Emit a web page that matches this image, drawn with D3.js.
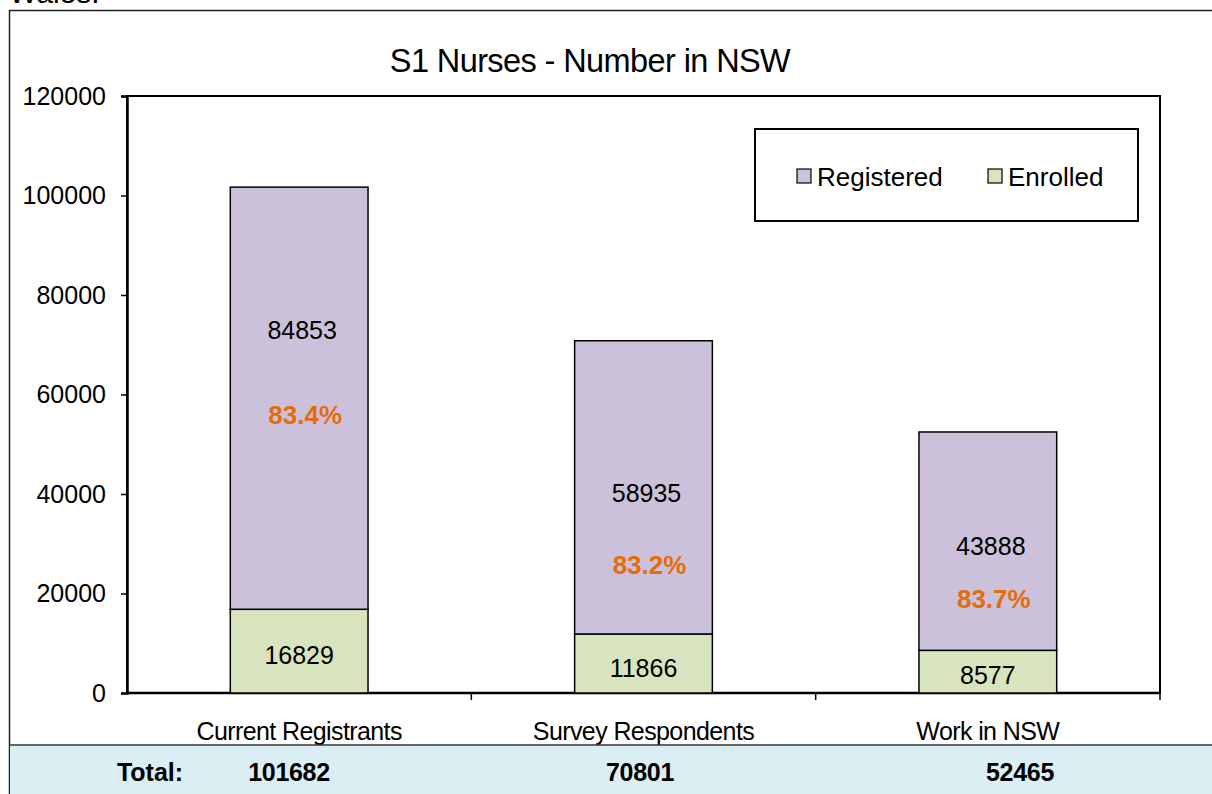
<!DOCTYPE html>
<html>
<head>
<meta charset="utf-8">
<script src="https://cdn.jsdelivr.net/npm/d3@7"></script>
<style>
  body { margin: 0; background: #fff; }
  svg { display: block; font-family: "Liberation Sans", Arial, sans-serif; }
</style>
</head>
<body>
<svg id="chart" width="1212" height="794"></svg>
<script>
const categories = ["Current Registrants", "Survey Respondents", "Work in NSW"];
const enrolled = [16829, 11866, 8577];
const registered = [84853, 58935, 43888];
const percents = ["83.4%", "83.2%", "83.7%"];
const totals = [101682, 70801, 52465];
const yTicks = [0, 20000, 40000, 60000, 80000, 100000, 120000];
// where the text boxes sit, in data units (placed by hand in the original)
const regLabelAt = [72900, 40200, 29500];
const pctLabelAt = [55900, 25700, 18900];
const enrLabelAt = [7600, 5000, 3600];

const svg = d3.select("#chart");
const m = { left: 127, right: 1160, top: 96, bottom: 693 };

// outer frame and cut-off text above it
svg.append("text").attr("x", 9).attr("y", 3).attr("font-size", 30).text("Wales.");
svg.append("rect").attr("x", 9.5).attr("y", 10.5).attr("width", 1212).attr("height", 800)
  .attr("fill", "#fff").attr("stroke", "#222").attr("stroke-width", 1.5);

const x = d3.scaleBand().domain(categories).range([m.left, m.right]).paddingInner(0).paddingOuter(0);
const y = d3.scaleLinear().domain([0, 120000]).range([m.bottom, m.top]);
const barW = x.bandwidth() * 0.4;
const cx = c => x(c) + x.bandwidth() / 2;

svg.append("text").attr("x", 590).attr("y", 72).attr("text-anchor", "middle")
  .attr("font-size", 32.5).attr("letter-spacing", -0.6).text("S1 Nurses - Number in NSW");

// plot area box
svg.append("rect").attr("x", m.left).attr("y", m.top)
  .attr("width", m.right - m.left).attr("height", m.bottom - m.top)
  .attr("fill", "none").attr("stroke", "#000").attr("stroke-width", 2);

// y axis
const yAxis = svg.append("g").attr("transform", `translate(${m.left},0)`)
  .call(d3.axisLeft(y).tickValues(yTicks).tickSize(6).tickPadding(15).tickFormat(d3.format("d")));
yAxis.select(".domain").attr("stroke-width", 2.5);
yAxis.selectAll(".tick line").attr("stroke-width", 1.5);
yAxis.selectAll("text").attr("font-size", 25).attr("font-family", "Liberation Sans, Arial").attr("fill", "#000");

// x axis: ticks between categories
svg.append("line").attr("x1", m.left).attr("x2", m.right).attr("y1", m.bottom).attr("y2", m.bottom)
  .attr("stroke", "#000").attr("stroke-width", 2.5);
svg.selectAll(".xtick").data(categories).enter().append("line")
  .attr("x1", d => x(d) + x.bandwidth()).attr("x2", d => x(d) + x.bandwidth())
  .attr("y1", m.bottom).attr("y2", m.bottom + 7).attr("stroke", "#000").attr("stroke-width", 1.5);
svg.selectAll(".xlab").data(categories).enter().append("text")
  .attr("x", d => cx(d)).attr("y", 740).attr("text-anchor", "middle")
  .attr("font-size", 25).attr("letter-spacing", -0.6).text(d => d);

// bars
const g = svg.selectAll(".bar").data(categories).enter().append("g");
g.append("rect").attr("x", d => cx(d) - barW / 2).attr("width", barW)
  .attr("y", (d, i) => y(enrolled[i])).attr("height", (d, i) => y(0) - y(enrolled[i]))
  .attr("fill", "#D7E4BD").attr("stroke", "#000").attr("stroke-width", 1.5);
g.append("rect").attr("x", d => cx(d) - barW / 2).attr("width", barW)
  .attr("y", (d, i) => y(enrolled[i] + registered[i]))
  .attr("height", (d, i) => y(enrolled[i]) - y(enrolled[i] + registered[i]))
  .attr("fill", "#CCC1DA").attr("stroke", "#000").attr("stroke-width", 1.5);

g.append("text").attr("x", d => cx(d) + 3).attr("y", (d, i) => y(regLabelAt[i]) + 9)
  .attr("text-anchor", "middle").attr("font-size", 25).text((d, i) => registered[i]);
g.append("text").attr("x", d => cx(d) + 6).attr("y", (d, i) => y(pctLabelAt[i]) + 9)
  .attr("text-anchor", "middle").attr("font-size", 26).attr("font-weight", "bold")
  .attr("fill", "#E46C0A").text((d, i) => percents[i]);
g.append("text").attr("x", d => cx(d)).attr("y", (d, i) => y(enrLabelAt[i]) + 9)
  .attr("text-anchor", "middle").attr("font-size", 25).text((d, i) => enrolled[i]);

// legend
const lg = svg.append("g");
lg.append("rect").attr("x", 755).attr("y", 129).attr("width", 383).attr("height", 92)
  .attr("fill", "#fff").attr("stroke", "#000").attr("stroke-width", 2);
const legendItems = [["Registered", "#CCC1DA", 797], ["Enrolled", "#D7E4BD", 988]];
legendItems.forEach(([name, col, lx]) => {
  lg.append("rect").attr("x", lx).attr("y", 169).attr("width", 14).attr("height", 14)
    .attr("fill", col).attr("stroke", "#000").attr("stroke-width", 1.2);
  lg.append("text").attr("x", lx + 20).attr("y", 186).attr("font-size", 26).text(name);
});

// totals band
svg.append("rect").attr("x", 10).attr("y", 745).attr("width", 1202).attr("height", 49).attr("fill", "#DAEEF3");
svg.append("line").attr("x1", 9).attr("x2", 1212).attr("y1", 745).attr("y2", 745)
  .attr("stroke", "#333").attr("stroke-width", 1.5);
svg.append("text").attr("x", 150).attr("y", 781).attr("text-anchor", "middle")
  .attr("font-size", 25).attr("font-weight", "bold").text("Total:");
const totalX = [289, 640, 1020];
svg.selectAll(".tot").data(totals).enter().append("text")
  .attr("x", (d, i) => totalX[i]).attr("y", 781).attr("text-anchor", "middle")
  .attr("font-size", 25).attr("font-weight", "bold").attr("letter-spacing", -0.3).text(d => d);
</script>
</body>
</html>
